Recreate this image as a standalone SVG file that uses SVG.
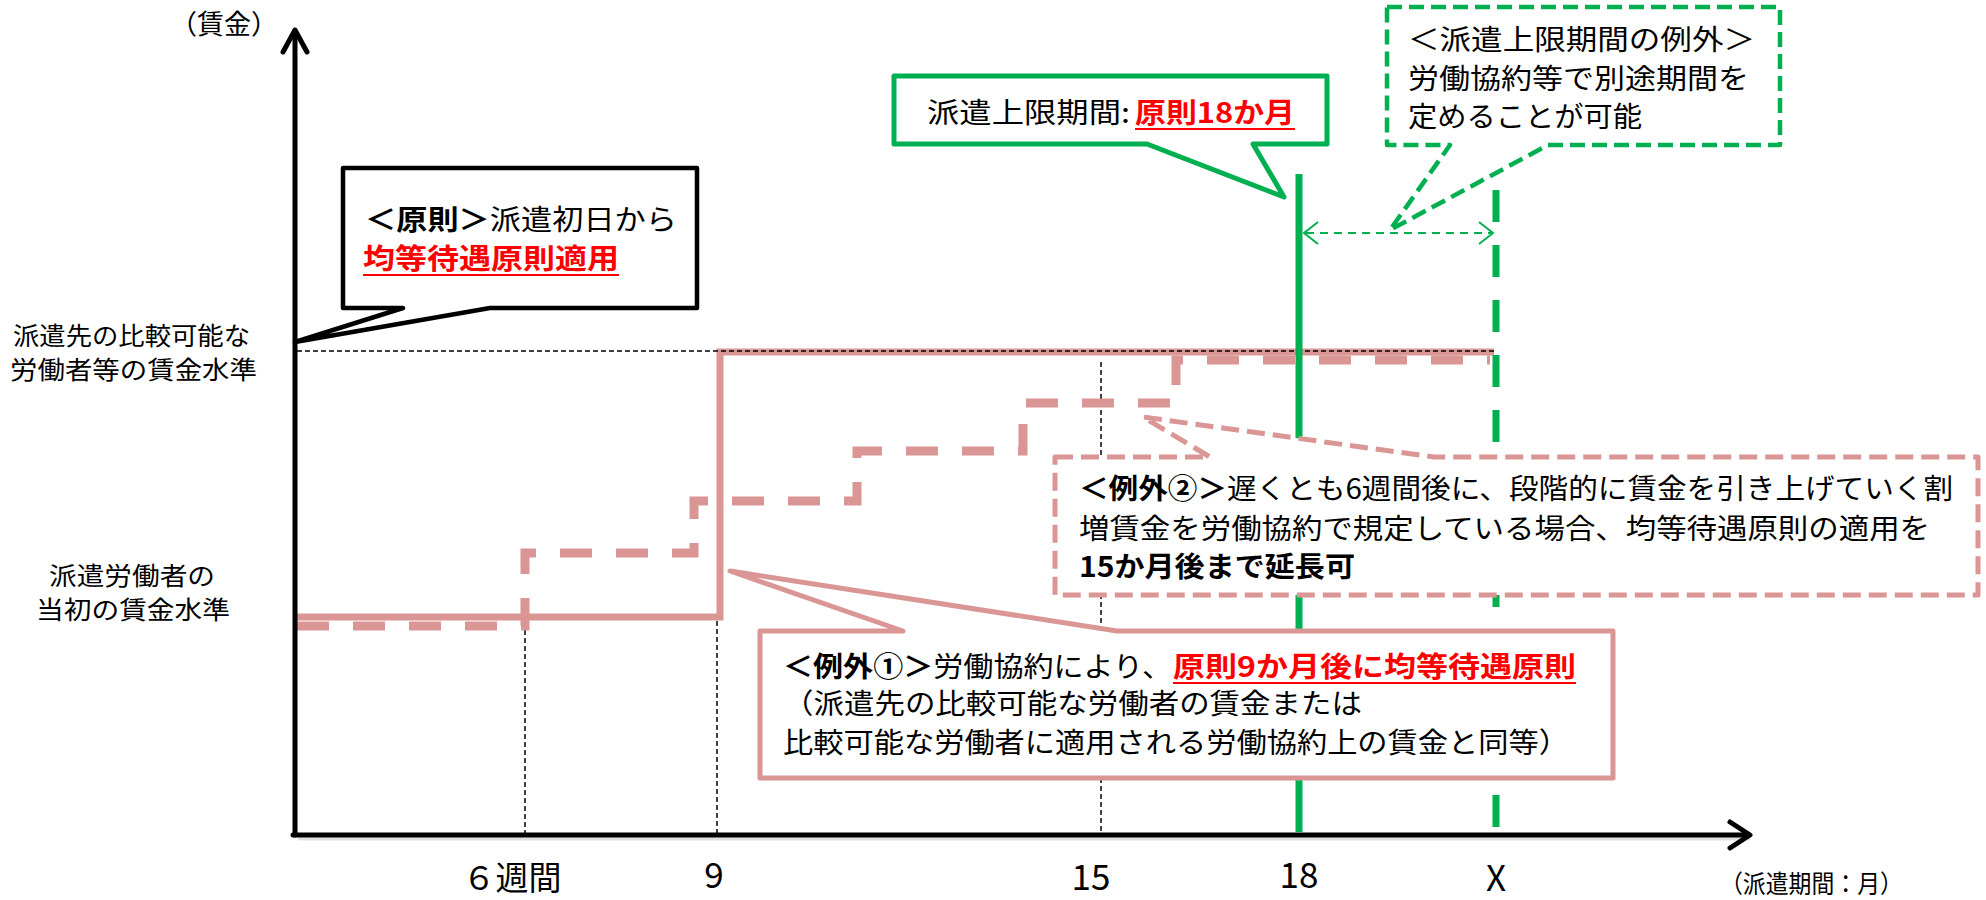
<svg xmlns="http://www.w3.org/2000/svg" width="1986" height="900" viewBox="0 0 1986 900">
<style>
.t{font-family:"Noto Sans CJK JP","Noto Sans",sans-serif;fill:#000;}
.b{font-weight:bold;}
.r{fill:#FF0000;font-weight:bold;}
.ul{stroke:#FF0000;stroke-width:2;}
.axis{stroke:#000;stroke-width:5;fill:none;stroke-linecap:round;stroke-linejoin:round;}
.shadow{stroke:#000;stroke-opacity:0.12;stroke-width:5;fill:none;}
.guide{stroke:#000;stroke-width:1.5;stroke-dasharray:5 3;fill:none;}
.pink{stroke:#D99694;stroke-width:7;fill:none;}
.pinkd{stroke:#D99694;stroke-width:9;fill:none;stroke-dasharray:32 24;}
.green{stroke:#00B050;stroke-width:7;fill:none;}
.greend{stroke:#00B050;stroke-width:7;fill:none;stroke-dasharray:32 23;}
.arr{stroke:#00B050;stroke-width:2;fill:none;}
.box{fill:#fff;stroke-linejoin:round;}
</style>
<rect x="0" y="0" width="1986" height="900" fill="#fff"/>

<g id="connectors">
  <g id="guides">
    <line class="guide" x1="525" y1="630" x2="525" y2="833"/>
    <line class="guide" x1="717" y1="621" x2="717" y2="833"/>
    <line class="guide" x1="1101" y1="362" x2="1101" y2="833"/>
  </g>
  <g id="wage-lines">
    <polyline class="pink" points="297,617 720,617 720,352 1494,352"/>
    <polyline class="pinkd" points="297,626 525,626 525,553 694,553 694,501 857,501 857,451 1023,451 1023,403 1176,403 1176,360 1490,360"/>
    <line class="guide" x1="297" y1="351" x2="1494" y2="351"/>
  </g>
  <g id="limit-lines">
    <line class="green" x1="1299" y1="174" x2="1299" y2="832"/>
    <line class="greend" x1="1496" y1="190" x2="1496" y2="830"/>
    <line class="arr" x1="1306" y1="233" x2="1491" y2="233" stroke-dasharray="8 6"/>
    <polyline class="arr" points="1318,222 1304,233 1318,244"/>
    <polyline class="arr" points="1479,222 1493,233 1479,244"/>
  </g>
  <g id="axes">
    <line class="shadow" x1="298" y1="838" x2="1750" y2="838"/>
    <line class="axis" x1="295" y1="835" x2="295" y2="32"/>
    <polyline class="axis" points="283,52 295,30 307,52"/>
    <line class="axis" x1="293" y1="835" x2="1748" y2="835"/>
    <polyline class="axis" points="1730,822 1750,835 1730,848"/>
  </g>
</g>

<g id="axis-labels">
  <text class="t" x="170" y="34" font-size="27">（賃金）</text>
  <text class="t" x="13" y="345" font-size="25" textLength="237" lengthAdjust="spacingAndGlyphs">派遣先の比較可能な</text>
  <text class="t" x="10" y="379" font-size="25" textLength="247" lengthAdjust="spacingAndGlyphs">労働者等の賃金水準</text>
  <text class="t" x="49" y="585" font-size="25" textLength="166" lengthAdjust="spacingAndGlyphs">派遣労働者の</text>
  <text class="t" x="36" y="619" font-size="25" textLength="194" lengthAdjust="spacingAndGlyphs">当初の賃金水準</text>
  <text class="t" x="512" y="890" font-size="33" text-anchor="middle">６週間</text>
  <text class="t" x="714" y="888" font-size="35" text-anchor="middle">9</text>
  <text class="t" x="1091" y="890" font-size="35" text-anchor="middle">15</text>
  <text class="t" x="1299" y="888" font-size="35" text-anchor="middle">18</text>
  <text class="t" x="1496" y="891" font-size="35" text-anchor="middle">X</text>
  <text class="t" x="1720" y="893" font-size="25" textLength="183" lengthAdjust="spacingAndGlyphs">（派遣期間：月）</text>
</g>

<g id="callout-principle">
  <path class="box" stroke="#000" stroke-width="4.5" d="M343,168 H697 V308 H490 L295,342 L403,308 H343 Z"/>
  <text class="t" x="365" y="230" font-size="28" textLength="312" lengthAdjust="spacingAndGlyphs"><tspan class="b">＜原則＞</tspan>派遣初日から</text>
  <text class="t r" x="363" y="269" font-size="28" textLength="256" lengthAdjust="spacingAndGlyphs">均等待遇原則適用</text>
  <line class="ul" x1="363" y1="275" x2="619" y2="275"/>
</g>

<g id="callout-limit">
  <path class="box" stroke="#00B050" stroke-width="5" d="M894,76 H1327 V144 H1253 L1284,197 L1147,144 H894 Z"/>
  <text class="t" x="927" y="123" font-size="28" textLength="203" lengthAdjust="spacingAndGlyphs">派遣上限期間:</text>
  <text class="t r" x="1135" y="123" font-size="28" textLength="160" lengthAdjust="spacingAndGlyphs">原則18か月</text>
  <line class="ul" x1="1135" y1="129" x2="1295" y2="129"/>
</g>

<g id="callout-limit-exception">
  <path class="box" stroke="#00B050" stroke-width="4.5" stroke-dasharray="15 7" d="M1387,7 H1780 V145 H1548 L1390,230 L1450,145 H1387 Z"/>
  <text class="t" x="1408" y="50" font-size="28" textLength="347" lengthAdjust="spacingAndGlyphs">＜派遣上限期間の例外＞</text>
  <text class="t" x="1408" y="89" font-size="28" textLength="341" lengthAdjust="spacingAndGlyphs">労働協約等で別途期間を</text>
  <text class="t" x="1408" y="127" font-size="28" textLength="234" lengthAdjust="spacingAndGlyphs">定めることが可能</text>
</g>

<g id="callout-exception2">
  <path class="box" stroke="#D99694" stroke-width="5" stroke-dasharray="18 8" d="M1055,457 H1210 L1143,417 L1434,457 H1978 V595 H1055 Z"/>
  <text class="t" x="1079" y="499" font-size="28" textLength="874" lengthAdjust="spacingAndGlyphs"><tspan class="b">＜例外②＞</tspan>遅くとも6週間後に、段階的に賃金を引き上げていく割</text>
  <text class="t" x="1079" y="539" font-size="28" textLength="851" lengthAdjust="spacingAndGlyphs">増賃金を労働協約で規定している場合、均等待遇原則の適用を</text>
  <text class="t b" x="1079" y="577" font-size="28" textLength="276" lengthAdjust="spacingAndGlyphs">15か月後まで延長可</text>
</g>

<g id="callout-exception1">
  <path class="box" stroke="#D99694" stroke-width="5" d="M760,631 H903 L730,571 L1117,631 H1613 V778 H760 Z"/>
  <text class="t" x="783" y="677" font-size="28" textLength="389" lengthAdjust="spacingAndGlyphs"><tspan class="b">＜例外①＞</tspan>労働協約により、</text>
  <text class="t r" x="1173" y="677" font-size="28" textLength="403" lengthAdjust="spacingAndGlyphs">原則9か月後に均等待遇原則</text>
  <line class="ul" x1="1173" y1="683" x2="1576" y2="683"/>
  <text class="t" x="783" y="714" font-size="28" textLength="579" lengthAdjust="spacingAndGlyphs">（派遣先の比較可能な労働者の賃金または</text>
  <text class="t" x="783" y="753" font-size="28" textLength="786" lengthAdjust="spacingAndGlyphs">比較可能な労働者に適用される労働協約上の賃金と同等）</text>
</g>
</svg>
